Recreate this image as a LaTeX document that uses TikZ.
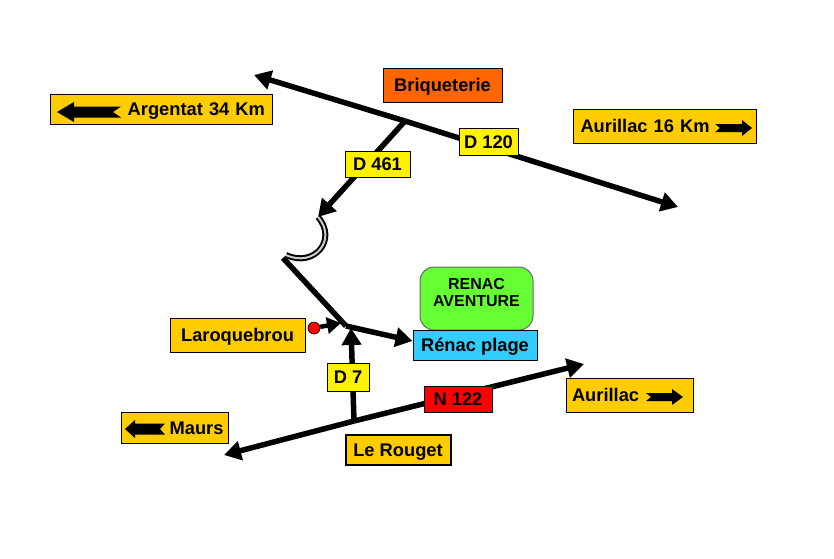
\documentclass[tikz,border=0pt]{standalone}
\usepackage{fontspec}
\setmainfont{Liberation Sans}
\usetikzlibrary{arrows.meta}
\tikzset{
	road/.style={line width=5.5pt},
	roadarrow/.style={road,-{Triangle[length=17pt,width=19pt]}},
	plate/.style={draw=black,line width=1pt,font=\fontsize{18.3}{20}\selectfont\bfseries,inner sep=0pt,text height=13pt,text depth=0pt},
	signbox/.style={plate,fill=signyellow},
	roadbox/.style={plate,fill=yellow}
}
\definecolor{signyellow}{HTML}{FFCC00}
\definecolor{brickorange}{HTML}{FF6600}
\definecolor{parkgreen}{HTML}{66FF33}
\definecolor{beachblue}{HTML}{33CCFF}
\begin{document}
\begin{tikzpicture}[x=1pt,y=-1pt]
	\useasboundingbox (0,0) rectangle (834,558);
	% roads
	\coordinate (d120w) at (254,75);
	\coordinate (d120e) at (678,207);
	\coordinate (d120j) at (405,121);
	\coordinate (bendtop) at (318,217);
	\coordinate (bendend) at (286,255);
	\coordinate (bendlow) at (283,258);
	\coordinate (cross) at (346,326);
	\coordinate (n122w) at (224,455);
	\coordinate (n122e) at (584,364);
	\coordinate (n122j) at (354,421);
	\coordinate (crosstip) at (351,328);
	\draw[roadarrow] (d120j) -- (d120w);
	\draw[roadarrow] (d120j) -- (d120e);
	\draw[roadarrow] (d120j) -- (bendtop);
	\draw[black,line width=2pt,double=black!20,double distance=2pt] (bendtop) .. controls (338,240) and (314,268) .. (bendend);
	\draw[road] (bendlow) -- (cross);
	\draw[roadarrow] (n122j) -- (n122w);
	\draw[roadarrow] (n122j) -- (n122e);
	\draw[roadarrow] (n122j) -- (crosstip);
	\node (renac) at (476.5,298.5) [draw=black!60,line width=1pt,fill=parkgreen,rounded corners=14pt,minimum width=113pt,minimum height=63pt,align=center,inner sep=0pt,text depth=12pt,font=\fontsize{16}{17}\selectfont\bfseries] {RENAC\\AVENTURE};
	\node (plage) at (475,345) [plate,fill=beachblue,minimum width=124pt,minimum height=30pt] {Rénac plage};
	\draw[roadarrow] (cross) -- ([yshift=4pt]plage.west);
	% signs
	\node (argentat) at (161,109) [signbox,text width=208pt,inner xsep=7pt,align=right,minimum height=30pt] {Argentat 34 Km};
	\node (briqueterie) at (442.5,85) [plate,fill=brickorange,minimum width=119pt,minimum height=34pt] {Briqueterie};
	\node (d120) at (488.5,141.5) [roadbox,minimum width=59pt,minimum height=27pt] {D 120};
	\node (d461) at (377.5,164) [roadbox,minimum width=65pt,minimum height=26pt] {D 461};
	\node (aurillackm) at (665,126) [signbox,text width=169pt,inner xsep=7pt,align=left,minimum height=34pt] {Aurillac 16 Km};
	\node (laroquebrou) at (237.5,335) [signbox,minimum width=135pt,minimum height=34pt] {Laroquebrou};
	\node (d7) at (348,377) [roadbox,minimum width=42pt,minimum height=28pt] {D 7};
	\node (n122) at (458,399) [plate,fill=red,minimum width=68pt,minimum height=26pt] {N 122};
	\node (maurs) at (175,427.5) [signbox,text width=97pt,inner xsep=5pt,align=right,minimum height=31pt] {Maurs};
	\node (rouget) at (398,450) [signbox,line width=2pt,minimum width=105pt,minimum height=30pt] {Le Rouget};
	\node (aurillac) at (629.5,395) [signbox,text width=115pt,inner xsep=6pt,align=left,minimum height=34pt] {Aurillac};
	% sign arrows
	\fill (57,112) -- (74,102) -- (74,106.5) -- (121,106.5) -- (113,112) -- (121,117.5) -- (74,117.5) -- (74,122) -- cycle;
	\fill (125,429) -- (135,420) -- (135,423.5) -- (165,423.5) -- (160,429) -- (165,434.5) -- (135,434.5) -- (135,438) -- cycle;
	\fill (752,128) -- (742,120) -- (742,124) -- (715,124) -- (720,128) -- (715,132) -- (742,132) -- (742,136) -- cycle;
	\fill (683,397) -- (672,389) -- (672,393) -- (646,393) -- (651,397) -- (646,401) -- (672,401) -- (672,405) -- cycle;
	% red dot
	\node (dot) at (314,328) [circle,draw=black,line width=0.7pt,fill=red,minimum size=12pt,inner sep=0pt] {};
	\coordinate (dotarrow) at (341,323);
	\draw[road,line width=4.5pt,-{Triangle[length=14pt,width=16pt]}] (dot) -- (dotarrow);
\end{tikzpicture}
\end{document}
